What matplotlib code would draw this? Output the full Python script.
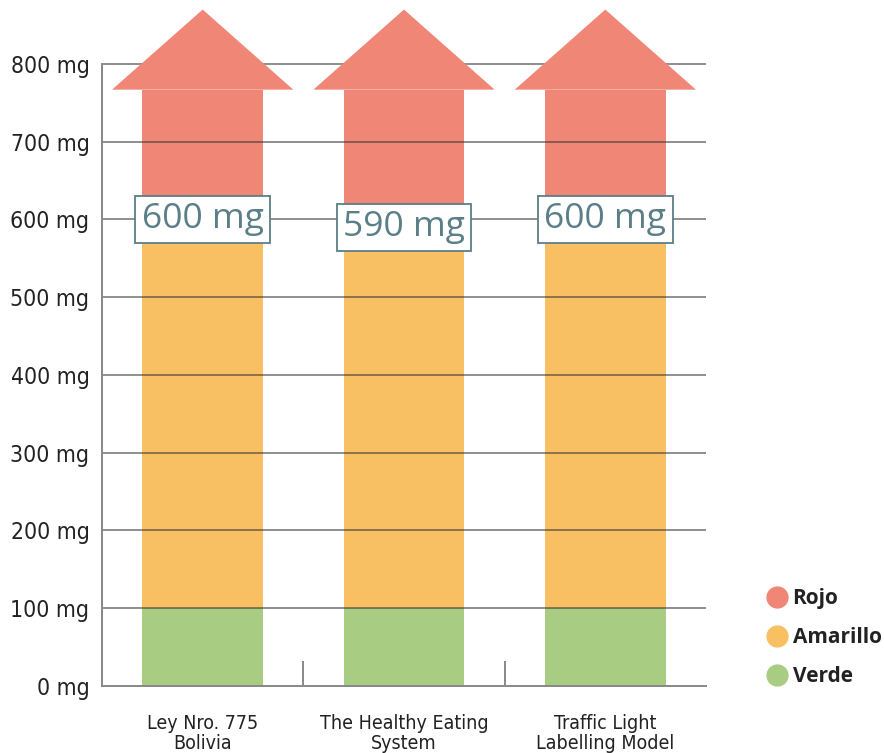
import matplotlib.pyplot as plt
from matplotlib.lines import Line2D
from matplotlib.patches import Polygon

# Datos del gráfico (mg de sodio)
categorias = ["Ley Nro. 775\nBolivia", "The Healthy Eating\nSystem", "Traffic Light\nLabelling Model"]
verde = [100, 100, 100]
amarillo = [600, 590, 600]
etiquetas = ["600 mg", "590 mg", "600 mg"]
yticks = [0, 100, 200, 300, 400, 500, 600, 700, 800]

rojo_c = "#f08676"
amarillo_c = "#f8c063"
verde_c = "#a8cd82"
caja_c = "#5b7f87"

fig = plt.figure(figsize=(8.84, 7.53), dpi=100)
ax = fig.add_axes([102 / 884, 67 / 753, 604 / 884, 686 / 753])

ancho = 0.6
base_flecha = 767
punta_flecha = 870
x = range(len(categorias))

for i in x:
    ax.bar(i, verde[i], width=ancho, color=verde_c, zorder=1)
    ax.bar(i, amarillo[i] - verde[i], bottom=verde[i], width=ancho, color=amarillo_c, zorder=1)
    ax.bar(i, base_flecha - amarillo[i], bottom=amarillo[i], width=ancho, color=rojo_c, zorder=1)
    cabeza = Polygon([(i - 0.45, base_flecha), (i + 0.45, base_flecha), (i, punta_flecha)],
                     closed=True, facecolor=rojo_c, edgecolor="none", zorder=3)
    ax.add_patch(cabeza)
    ax.text(i, amarillo[i], etiquetas[i], ha="center", va="center", fontsize=25.5,
            family="Open Sans", color=caja_c, zorder=4,
            bbox=dict(boxstyle="square,pad=0.18", facecolor="white", edgecolor=caja_c, linewidth=1.3))

# lineas de cuadricula encima de las barras
for v in yticks[1:]:
    ax.axhline(v, color="#333333", alpha=0.55, linewidth=1.4, zorder=2)

ax.set_xlim(-0.5, 2.5)
ax.set_ylim(0, 882.3)
ax.set_yticks(yticks)
ax.set_yticklabels([f"{v} mg" for v in yticks], family="DejaVu Sans", stretch="condensed",
                   fontsize=16.5, color="#222222")
ax.tick_params(axis="y", length=0, pad=9)

ax.set_xticks(list(x))
ax.set_xticklabels(categorias, family="DejaVu Sans", stretch="condensed", fontsize=14,
                   color="#222222", linespacing=1.05)
ax.tick_params(axis="x", length=0, pad=20)
ax.set_xticks([0.5, 1.5], minor=True)
ax.tick_params(axis="x", which="minor", direction="in", length=18, width=1.4, color="#888888")

for s in ["top", "right"]:
    ax.spines[s].set_visible(False)
ax.spines["left"].set_bounds(0, 800)
ax.spines["left"].set_color("#888888")
ax.spines["left"].set_linewidth(1.4)
ax.spines["bottom"].set_color("#888888")
ax.spines["bottom"].set_linewidth(1.4)

handles = [Line2D([], [], marker="o", linestyle="", markersize=15, color=c)
           for c in [rojo_c, amarillo_c, verde_c]]
leg = fig.legend(handles, ["Rojo", "Amarillo", "Verde"], loc="upper left",
                 bbox_to_anchor=(754 / 884, 1 - 578 / 753), frameon=False,
                 prop={"family": "Open Sans", "weight": "bold", "size": 15},
                 handletextpad=0.15, labelspacing=0.85, handlelength=1.2, borderpad=0)
for t in leg.get_texts():
    t.set_color("#222222")

fig.savefig("out.png", dpi=100)
